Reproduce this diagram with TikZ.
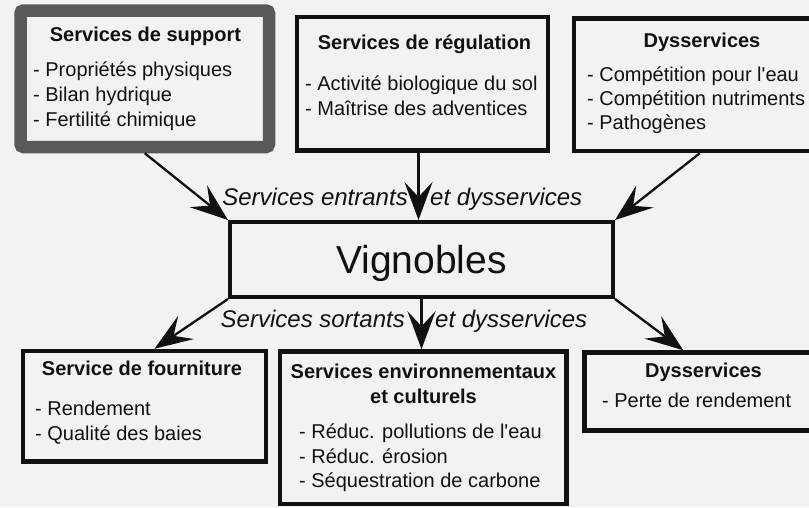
\documentclass[tikz,border=0pt]{standalone}
\usepackage{fontspec}
\setmainfont{Liberation Sans}
\usetikzlibrary{arrows.meta,calc}
\definecolor{bg}{HTML}{F2F2F2}
\definecolor{ink}{HTML}{111111}
\definecolor{framegray}{HTML}{595959}

\begin{document}
\begin{tikzpicture}[x=1pt,y=-1pt,
  panel/.style={draw=ink, line width=4.5pt, fill=bg, rectangle, inner sep=0pt},
  supportpanel/.style={draw=framegray, line width=12.5pt, fill=bg, rectangle, rounded corners=3pt, inner sep=0pt},
  corebox/.style={draw=ink, line width=4pt, fill=bg, rectangle, inner sep=0pt,
    text=ink, font=\fontsize{39pt}{44pt}\selectfont, text height=28pt, text depth=0pt},
  head/.style={inner sep=0pt, text=ink, anchor=base, font=\bfseries\fontsize{20pt}{24pt}\selectfont},
  item/.style={inner sep=0pt, text=ink, anchor=base west, font=\fontsize{20pt}{24pt}\selectfont},
  lab/.style={inner sep=0pt, text=ink, font=\itshape\fontsize{24pt}{28pt}\selectfont},
  flow/.style={draw=ink, line width=2.3pt, -{Stealth[length=38pt,width=28pt,inset=15pt]}}
]
\useasboundingbox (0,0) rectangle (809,507);
\fill[bg] (0,0) rectangle (809,507);
\clip (0,0) rectangle (809,507);

% upper row of panels
\node[supportpanel, minimum width=248.5pt, minimum height=136.5pt] (sup) at (144.75,78.75) {};
\node[panel, minimum width=251pt, minimum height=133.5pt] (reg) at (422.5,83.5) {};
\node[panel, minimum width=266pt, minimum height=132.5pt] (dyst) at (707,84.75) {};

% central box
\node[corebox, minimum width=383pt, minimum height=75pt] (vig) at (421.5,259.5) {Vignobles};

% lower row of panels
\node[panel, minimum width=243pt, minimum height=110.5pt] (fourn) at (144.5,406.25) {};
\node[panel, minimum width=286.5pt, minimum height=152.5pt] (env) at (423.25,427.75) {};
\node[panel, minimum width=255.5pt, minimum height=78pt] (dysb) at (712.25,391.5) {};

% panel texts
\node[head] (supT) at (145.5,41.5) {Services de support};
\node[item] (sup1) at (33,76) {- Propriétés physiques};
\node[item] (sup2) at (33,101.5) {- Bilan hydrique};
\node[item] (sup3) at (33,126.5) {- Fertilité chimique};

\node[head] (regT) at (424.5,49) {Services de régulation};
\node[item] (reg1) at (305,90) {- Activité biologique du sol};
\node[item] (reg2) at (305,115) {- Maîtrise des adventices};

\node[head] (dystT) at (702,47) {Dysservices};
\node[item] (dyst1) at (587,81.5) {- Compétition pour l\textquotesingle eau};
\node[item] (dyst2) at (587,105) {- Compétition nutriments};
\node[item] (dyst3) at (587,129) {- Pathogènes};

\node[head] (fournT) at (142,375) {Service de fourniture};
\node[item] (fourn1) at (35,415) {- Rendement};
\node[item] (fourn2) at (35,440) {- Qualité des baies};

\node[head] (envT) at (423.5,378) {Services environnementaux};
\node[head] (envT2) at (423.5,403) {et culturels};
\node[item] (env1) at (299,438) {- Réduc. pollutions de l\textquotesingle eau};
\node[item] (env2) at (299,463) {- Réduc. érosion};
\node[item] (env3) at (299,487) {- Séquestration de carbone};

\node[head] (dysbT) at (703.5,377) {Dysservices};
\node[item] (dysb1) at (602,407) {- Perte de rendement};

% flow labels
\node[lab, anchor=base east] (inL) at (408,205) {Services entrants};
\node[lab, anchor=base west] (inR) at (430,205) {et dysservices};
\node[lab, anchor=base east] (outL) at (405,327) {Services sortants};
\node[lab, anchor=base west] (outR) at (435,327) {et dysservices};

% incoming flows
\draw[flow] (sup.south) -- (vig.north west);
\draw[flow] ($(reg.south)+(-4,0)$) -- ($(reg.south |- vig.north)+(-4,0)$);
\draw[flow] ($(dyst.south west)+(128,0)$) -- (vig.north east);

% outgoing flows
\draw[flow] (vig.south west) -- ($(fourn.north)+(10,0)$);
\draw[flow] (vig.south) -- (vig.south |- env.north);
\draw[flow] (vig.south east) -- ($(dysb.north west)+(101,0)$);
\end{tikzpicture}
\end{document}
